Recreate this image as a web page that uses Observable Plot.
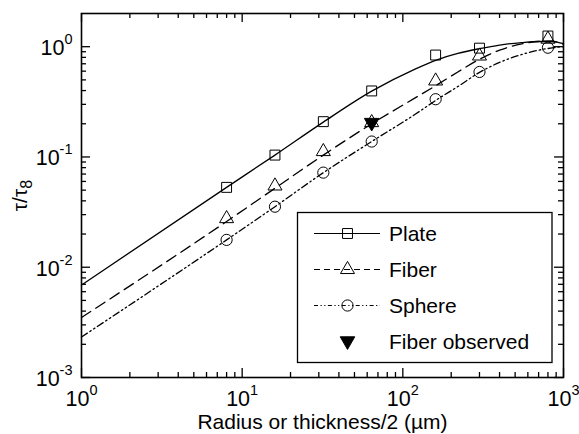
<!DOCTYPE html>
<html>
<head>
<meta charset="utf-8">
<script src="https://cdn.jsdelivr.net/npm/d3@7"></script>
<script src="https://cdn.jsdelivr.net/npm/@observablehq/plot@0.6"></script>
<style>
  body { margin: 0; background: #fff; }
  #chart { position: relative; width: 579px; height: 434px; font-family: "Liberation Sans", Arial, Helvetica, sans-serif; }
  #legend { position: absolute; left: 0; top: 0; }
</style>
</head>
<body>
<div id="chart"></div>
<script>
// Radii (µm) at which the model markers are plotted
const markerRadius = [8, 16, 32, 64, 160, 300, 800];
const plateMarkers  = [0.053, 0.104, 0.209, 0.397, 0.84, 0.97, 1.25];
const fiberMarkers  = [0.0276, 0.0546, 0.112, 0.205, 0.489, 0.824, 1.17];
const sphereMarkers = [0.0177, 0.0354, 0.0721, 0.138, 0.334, 0.59, 0.979];

// Observed fiber value
const observedRadius = [64];
const observedValue  = [0.205];

// Model curves τ/τ8 versus radius
const curveRadius = [1, 8, 16, 32, 64, 120, 165, 220, 300, 400, 550, 700, 850, 1000];
const plateCurve  = [0.0069, 0.053, 0.104, 0.207, 0.395, 0.63, 0.765, 0.87, 0.96, 1.035, 1.09, 1.115, 1.11, 1.065];
const fiberCurve  = [0.0035, 0.026, 0.052, 0.104, 0.2, 0.345, 0.455, 0.59, 0.77, 0.93, 1.06, 1.115, 1.12, 1.05];
const sphereCurve = [0.00233, 0.0177, 0.0354, 0.072, 0.138, 0.245, 0.335, 0.435, 0.585, 0.72, 0.85, 0.93, 0.975, 1.005];

// Axis ticks
const xDecades = [1, 10, 100, 1000];
const yDecades = [0.001, 0.01, 0.1, 1];
const minorSteps = [2, 3, 4, 5, 6, 7, 8, 9];
const xMinor = [1, 10, 100].flatMap(d => minorSteps.map(m => d * m));
const yMinor = [0.001, 0.01, 0.1, 1].flatMap(d => minorSteps.map(m => d * m)).filter(v => v < 2);

const xLabel = "Radius or thickness/2 (µm)";
const yLabel = "τ/τ_8";

const legendItems = [
  {label: "Plate", dash: null, symbol: "square"},
  {label: "Fiber", dash: "6,4", symbol: "triangle"},
  {label: "Sphere", dash: "4,2.5,1.2,2.5,1.2,2.5", symbol: "circle"},
  {label: "Fiber observed", dash: "none", symbol: "observed"}
];

// ---- tables built from the arrays ----
const markers = markerRadius.map((r, i) => ({r, plate: plateMarkers[i], fiber: fiberMarkers[i], sphere: sphereMarkers[i]}));
const curves = curveRadius.map((r, i) => ({r, plate: plateCurve[i], fiber: fiberCurve[i], sphere: sphereCurve[i]}));
const observed = observedRadius.map((r, i) => ({r, v: observedValue[i]}));

const W = 579, H = 434;
const mL = 81, mR = 16, mT = 13, mB = 57;
const frameW = W - mL - mR, frameH = H - mT - mB;
const majorLen = 9, minorLen = 5;

const expFormat = d => "10^" + Math.round(Math.log10(d));

const R_SQUARE = 5.6, R_TRI = 5.2, R_CIRC = 5.6, R_OBS = 5.4;
const dashFiber = "11,6";
const dashSphere = "7,3,1.5,3,1.5,3";

const chart = Plot.plot({
  width: W, height: H,
  marginLeft: mL, marginRight: mR, marginTop: mT, marginBottom: mB,
  style: {fontFamily: '"Liberation Sans", Arial, Helvetica, sans-serif', fontSize: "21px", color: "black", background: "white", overflow: "visible"},
  x: {type: "log", domain: [1, 1000]},
  y: {type: "log", domain: [0.001, 2]},
  marks: [
    // inward ticks on all four sides
    Plot.tickX(xDecades, {x: d => d, insetTop: frameH - majorLen, strokeWidth: 1.3}),
    Plot.tickX(xMinor, {x: d => d, insetTop: frameH - minorLen, strokeWidth: 1.3}),
    Plot.tickX(xDecades, {x: d => d, insetBottom: frameH - majorLen, strokeWidth: 1.3}),
    Plot.tickX(xMinor, {x: d => d, insetBottom: frameH - minorLen, strokeWidth: 1.3}),
    Plot.tickY(yDecades, {y: d => d, insetRight: frameW - majorLen, strokeWidth: 1.3}),
    Plot.tickY(yMinor, {y: d => d, insetRight: frameW - minorLen, strokeWidth: 1.3}),
    Plot.tickY(yDecades, {y: d => d, insetLeft: frameW - majorLen, strokeWidth: 1.3}),
    Plot.tickY(yMinor, {y: d => d, insetLeft: frameW - minorLen, strokeWidth: 1.3}),
    Plot.axisX({ticks: xDecades, tickSize: 0, tickPadding: 13, tickFormat: expFormat, label: null, fontSize: 21.5}),
    Plot.axisY({ticks: yDecades, tickSize: 0, tickPadding: 9, tickFormat: expFormat, label: null, fontSize: 21.5, dy: 1.5}),
    Plot.text([xLabel], {text: d => d, frameAnchor: "bottom", dy: 51, fontSize: 21, lineAnchor: "bottom"}),
    Plot.text([yLabel], {text: d => d, frameAnchor: "left", dx: -61, rotate: -90, fontSize: 21, textAnchor: "middle", lineAnchor: "middle"}),
    // model curves
    Plot.line(curves, {x: "r", y: "plate", stroke: "black", strokeWidth: 1.3, curve: "monotone-x"}),
    Plot.line(curves, {x: "r", y: "fiber", stroke: "black", strokeWidth: 1.3, strokeDasharray: dashFiber, curve: "monotone-x"}),
    Plot.line(curves, {x: "r", y: "sphere", stroke: "black", strokeWidth: 1.3, strokeDasharray: dashSphere, curve: "monotone-x"}),
    // markers
    Plot.dot(markers, {x: "r", y: "plate", symbol: "square", r: R_SQUARE, fill: "none", stroke: "black", strokeWidth: 1}),
    Plot.dot(markers, {x: "r", y: "fiber", symbol: "triangle", r: R_TRI, fill: "none", stroke: "black", strokeWidth: 1}),
    Plot.dot(markers, {x: "r", y: "sphere", symbol: "circle", r: R_CIRC, fill: "none", stroke: "black", strokeWidth: 1}),
    Plot.dot(observed, {x: "r", y: "v", symbol: "triangle", r: R_OBS, fill: "black", stroke: "black", strokeWidth: 1, rotate: 180}),
    Plot.frame({stroke: "black", strokeWidth: 1.6})
  ]
});

// superscript exponents and the subscript in the y label
d3.select(chart).selectAll("text").each(function() {
  const t = this.textContent;
  const sel = d3.select(this);
  if (/^10\^/.test(t)) {
    const exp = t.slice(3);
    sel.text("10");
    sel.append("tspan").attr("font-size", "14.5px").attr("dy", "-0.75em").text(exp);
  } else if (t === yLabel) {
    const [base, sub] = t.split("_");
    sel.text(base);
    sel.append("tspan").attr("font-size", "16px").attr("dy", "0.3em").text(sub);
  }
});

const host = document.getElementById("chart");
host.appendChild(chart);

// legend box inside the plot area
const lg = d3.create("svg").attr("id", "legend").attr("width", W).attr("height", H)
  .style("font-family", '"Liberation Sans", Arial, Helvetica, sans-serif').style("pointer-events", "none");
const box = {x0: 297.5, y0: 212.5, x1: 552, y1: 362.5};
lg.append("rect").attr("x", box.x0).attr("y", box.y0).attr("width", box.x1 - box.x0).attr("height", box.y1 - box.y0)
  .attr("fill", "white").attr("stroke", "black").attr("stroke-width", 1.3);
const rowY = [233.5, 269.5, 305.5, 341];
const lineX0 = 314, lineX1 = 380, symX = 347.5, textX = 389;
const symArea = r => Math.PI * r * r;
legendItems.forEach((item, i) => {
  const y = rowY[i];
  if (item.dash !== "none") {
    lg.append("line").attr("x1", lineX0).attr("x2", lineX1).attr("y1", y).attr("y2", y)
      .attr("stroke", "black").attr("stroke-width", 1.1).attr("stroke-dasharray", item.dash);
  }
  let path, fill = "none", rot = 0;
  if (item.symbol === "square") path = d3.symbol(d3.symbolSquare, symArea(R_SQUARE))();
  else if (item.symbol === "triangle") path = d3.symbol(d3.symbolTriangle, symArea(R_TRI))();
  else if (item.symbol === "circle") path = d3.symbol(d3.symbolCircle, symArea(R_CIRC))();
  else { path = d3.symbol(d3.symbolTriangle, symArea(R_OBS))(); fill = "black"; rot = 180; }
  lg.append("path").attr("d", path).attr("transform", `translate(${symX},${y}) rotate(${rot})`)
    .attr("fill", fill).attr("stroke", "black").attr("stroke-width", 1);
  lg.append("text").attr("x", textX).attr("y", y).attr("dy", "0.36em").attr("font-size", 21).text(item.label);
});
host.appendChild(lg.node());
</script>
</body>
</html>
